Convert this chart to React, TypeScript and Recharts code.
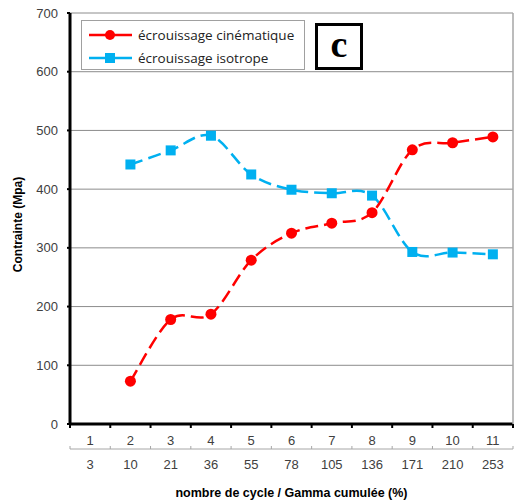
import { LineChart, Line, XAxis, YAxis, CartesianGrid } from "recharts";

// nombre de cycle / gamma cumulée
const cycles = ["1", "2", "3", "4", "5", "6", "7", "8", "9", "10", "11"];
const gamma = ["3", "10", "21", "36", "55", "78", "105", "136", "171", "210", "253"];
const cinematique = [null, 73, 178, 187, 279, 325, 342, 360, 467, 479, 489];
const isotrope = [null, 442, 466, 491, 425, 399, 393, 389, 293, 292, 289];
const yTicks = [0, 100, 200, 300, 400, 500, 600, 700];

const data = cycles.map((c, i) => ({
  c,
  g: gamma[i],
  cin: cinematique[i],
  iso: isotrope[i],
}));

const W = 523;
const H = 500;
const M = { top: 13, right: 0, left: 0, bottom: 0 };
const Y_W = 70;
const R_W = 10;
const BAND = (W - Y_W - R_W) / cycles.length;

const RED = "#FF0000";
const BLUE = "#00B0F0";
const TXT = "#404040";
const FONT = "'Liberation Sans', Arial, sans-serif";

// excel-like smoothed line (catmull-rom, 1/6 control points)
function excelCurve(context: any) {
  let pts: number[][] = [];
  return {
    areaStart() {},
    areaEnd() {},
    lineStart() {
      pts = [];
    },
    point(x: number, y: number) {
      pts.push([+x, +y]);
    },
    lineEnd() {
      if (!pts.length) return;
      context.moveTo(pts[0][0], pts[0][1]);
      for (let i = 0; i < pts.length - 1; i++) {
        const p0 = pts[i - 1] || pts[i];
        const p1 = pts[i];
        const p2 = pts[i + 1];
        const p3 = pts[i + 2] || p2;
        context.bezierCurveTo(
          p1[0] + (p2[0] - p0[0]) / 6,
          p1[1] + (p2[1] - p0[1]) / 6,
          p2[0] - (p3[0] - p1[0]) / 6,
          p2[1] - (p3[1] - p1[1]) / 6,
          p2[0],
          p2[1]
        );
      }
    },
  };
}

function CycleTick({ x, y, payload, index }: any) {
  const last = index === cycles.length - 1;
  return (
    <g>
      <line x1={x - BAND / 2} x2={x - BAND / 2} y1={y} y2={y + 4} stroke="#000" strokeWidth={2} />
      {last && <line x1={x + BAND / 2} x2={x + BAND / 2} y1={y} y2={y + 4} stroke="#000" strokeWidth={2} />}
      <text x={x} y={y + 21} textAnchor="middle" fontSize={13} fill={TXT} fontFamily={FONT}>
        {payload.value}
      </text>
    </g>
  );
}

function GammaTick({ x, y, payload, index }: any) {
  const last = index === gamma.length - 1;
  return (
    <g>
      <line x1={x - BAND / 2} x2={x - BAND / 2} y1={y - 3} y2={y} stroke="#a6a6a6" />
      {last && <line x1={x + BAND / 2} x2={x + BAND / 2} y1={y - 3} y2={y} stroke="#a6a6a6" />}
      <text x={x} y={y + 20} textAnchor="middle" fontSize={13} fill={TXT} fontFamily={FONT}>
        {payload.value}
      </text>
    </g>
  );
}

function SquareDot({ cx, cy, index }: any) {
  if (cx == null || cy == null || isNaN(cy)) return <g key={index} />;
  return <rect key={index} x={cx - 5} y={cy - 5} width={10} height={10} fill={BLUE} />;
}

function CircleDot({ cx, cy, index }: any) {
  if (cx == null || cy == null || isNaN(cy)) return <g key={index} />;
  return <circle key={index} cx={cx} cy={cy} r={5.5} fill={RED} />;
}

function LegendBox() {
  const items = [
    { label: "écrouissage cinématique", color: RED, square: false },
    { label: "écrouissage isotrope", color: BLUE, square: true },
  ];
  return (
    <div
      style={{
        position: "absolute",
        left: 81,
        top: 20,
        border: "1px solid #a0a0a0",
        width: 224,
        height: 50,
        boxSizing: "border-box",
        background: "#fff",
        paddingTop: 2,
      }}
    >
      {items.map((it) => (
        <div key={it.label} style={{ display: "flex", alignItems: "center", height: 23 }}>
          <svg width={56} height={12} style={{ marginLeft: 6 }}>
            <line x1={1} x2={44} y1={6} y2={6} stroke={it.color} strokeWidth={2.5} />
            {it.square ? (
              <rect x={17} y={1} width={10} height={10} fill={it.color} />
            ) : (
              <circle cx={22} cy={6} r={5} fill={it.color} />
            )}
          </svg>
          <span style={{ fontFamily: "'Open Sans', sans-serif", fontSize: 13.5, color: "#222", marginLeft: -6 }}>
            {it.label}
          </span>
        </div>
      ))}
    </div>
  );
}

export default function App() {
  return (
    <div style={{ position: "absolute", left: 0, top: 0, width: W, height: H, background: "#fff" }}>
      <LineChart width={W} height={H} data={data} margin={M}>
        <CartesianGrid vertical={false} stroke="#8c8c8c" yAxisId="y" xAxisId="c" />
        <XAxis
          dataKey="c"
          xAxisId="c"
          scale="band"
          height={25}
          axisLine={{ stroke: "#000", strokeWidth: 3 }}
          tickLine={false}
          tickSize={0}
          tickMargin={0}
          interval={0}
          tick={<CycleTick />}
        />
        <XAxis
          dataKey="g"
          xAxisId="g"
          scale="band"
          height={51}
          axisLine={{ stroke: "#a6a6a6", strokeWidth: 1 }}
          tickLine={false}
          tickSize={0}
          tickMargin={0}
          interval={0}
          tick={<GammaTick />}
          label={{
            value: "nombre de cycle / Gamma cumulée  (%)",
            position: "insideBottom",
            offset: 3,
            style: { fontSize: 12.5, fontWeight: 700, fill: "#000", fontFamily: FONT },
          }}
        />
        <YAxis
          yAxisId="y"
          width={Y_W}
          domain={[0, 700]}
          ticks={yTicks}
          interval={0}
          axisLine={{ stroke: "#000", strokeWidth: 3 }}
          tickLine={{ stroke: "#000", strokeWidth: 2 }}
          tickSize={3}
          tickMargin={9}
          tick={{ fontSize: 13, fill: TXT, fontFamily: FONT }}
          label={{
            content: ({ viewBox }: any) => {
              const cx = 18;
              const cy = viewBox.y + viewBox.height / 2 + 6;
              return (
                <text
                  x={cx}
                  y={cy}
                  transform={`rotate(-90, ${cx}, ${cy})`}
                  textAnchor="middle"
                  dominantBaseline="central"
                  fontSize={12}
                  fontWeight={700}
                  fill="#000"
                  fontFamily={FONT}
                >
                  Contrainte (Mpa)
                </text>
              );
            },
          }}
        />
        <YAxis
          yAxisId="r"
          orientation="right"
          width={R_W}
          domain={[0, 700]}
          tick={false}
          tickLine={false}
          axisLine={{ stroke: "#a6a6a6", strokeWidth: 1.5 }}
        />
        <Line
          xAxisId="c"
          yAxisId="y"
          dataKey="iso"
          type={excelCurve as any}
          stroke={BLUE}
          strokeWidth={2.5}
          strokeDasharray="13 6"
          dot={<SquareDot />}
          activeDot={false}
          isAnimationActive={false}
        />
        <Line
          xAxisId="c"
          yAxisId="y"
          dataKey="cin"
          type={excelCurve as any}
          stroke={RED}
          strokeWidth={2.5}
          strokeDasharray="13 6"
          dot={<CircleDot />}
          activeDot={false}
          isAnimationActive={false}
        />
      </LineChart>
      <LegendBox />
      <div
        style={{
          position: "absolute",
          left: 315,
          top: 23,
          width: 48,
          height: 47,
          border: "3px solid #000",
          boxSizing: "border-box",
          background: "#fff",
          display: "flex",
          alignItems: "center",
          justifyContent: "center",
          fontFamily: "'Liberation Serif', serif",
          fontWeight: 700,
          fontSize: 38,
          lineHeight: 1,
          paddingBottom: 6,
        }}
      >
        c
      </div>
    </div>
  );
}
